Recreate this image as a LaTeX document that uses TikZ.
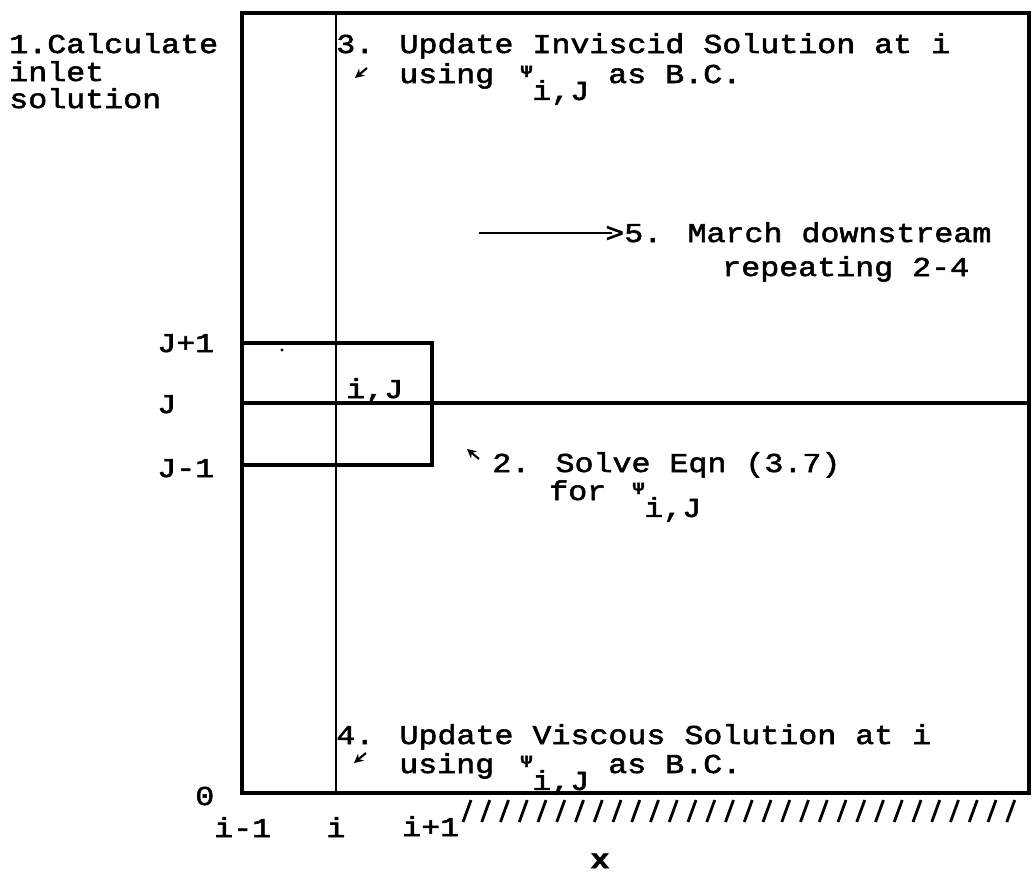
\documentclass[tikz,border=0pt]{standalone}
\usepackage{fontspec}
\setmainfont[FakeStretch=1.16, FakeBold=2]{Liberation Mono}
\usetikzlibrary{arrows.meta}
\newcommand{\psiIJ}{\makebox[0.7em][r]{\raisebox{0.22em}{\fontsize{12}{12}\selectfont\bfseries Ψ}}\raisebox{-0.62em}{i,J}}

\begin{document}
\begin{tikzpicture}[x=0.025cm, y=-0.025cm,
    txt/.style={anchor=base west, inner sep=0pt, font=\fontsize{19.4}{22}\selectfont},
    frame/.style={line width=3pt},
    gridline/.style={line width=1.7pt},
    pointer/.style={line width=1.5pt, -{Stealth[length=6.5pt,width=6.5pt]}},
    hatch/.style={line width=2pt}]
    \useasboundingbox (0,0) rectangle (1033,875);
    \draw[frame] (242,13) rectangle (1029,793);
    \draw[gridline] (336,13) -- (336,793);
    \draw[frame] (242,343) rectangle (432,465);
    \draw[frame] (242,403) -- (1029,403);
    \fill (282,350) circle (1.2pt);
    \foreach \k in {0,...,29}
        \draw[hatch] ({463+18.75*\k},822) -- ++(8,-22);

    \node[txt] (inletA) at (9,53) {1.Calculate};
    \node[txt] (inletB) at (9,81) {inlet};
    \node[txt] (inletC) at (9,108) {solution};

    \node[txt] (invA) at (336,53) {3. Update Inviscid Solution at i};
    \node[txt] (invB) at (399,83) {using \psiIJ{} as B.C.};
    \coordinate (invTip) at (367,68);
    \draw[pointer] (invTip) -- ++(-12,10);

    \node[txt] (marchA) at (605,242) {>5. March downstream};
    \node[txt] (marchB) at (722,276) {repeating 2-4};
    \coordinate (marchTail) at (479,233);
    \draw[line width=1.3pt, shorten >=-5pt] (marchTail) -- (marchTail -| marchA.base west);

    \node[txt] (jup) at (157,352) {J+1};
    \node[txt] (jmid) at (157,413) {J};
    \node[txt] (jdown) at (157,477) {J-1};
    \node[txt] (cell) at (346,398) {i,J};

    \node[txt] (solveA) at (492,472) {2. Solve Eqn (3.7)};
    \node[txt] (solveB) at (549,500) {for \psiIJ};
    \coordinate (solveTip) at (479,459);
    \draw[pointer] (solveTip) -- ++(-12,-10);

    \node[txt] (visA) at (336,744) {4. Update Viscous Solution at i};
    \node[txt] (visB) at (399,773) {using \psiIJ{} as B.C.};
    \coordinate (visTip) at (366,753);
    \draw[pointer] (visTip) -- ++(-12,10);

    \node[txt] (zero) at (195,805) {0};
    \node[txt] (iprev) at (214,837) {i-1};
    \node[txt, anchor=base] (icur) at (336,837) {i};
    \node[txt] (inext) at (402,836) {i+1};
    \node[txt, anchor=base, font=\fontsize{19.4}{22}\selectfont\bfseries] (xaxis) at (600,868) {x};
\end{tikzpicture}
\end{document}
